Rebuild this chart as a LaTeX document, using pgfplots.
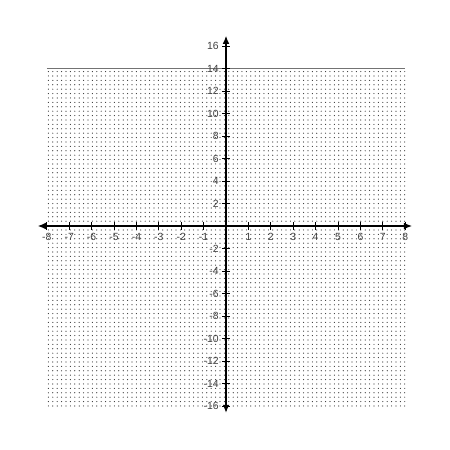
\documentclass[border=0pt]{standalone}
\usepackage{pgfplots}
\pgfplotsset{compat=1.18}
\usepackage{fontspec}
\setmainfont{Liberation Sans}
\usetikzlibrary{patterns,arrows.meta}

% sparser dots than the stock "dots" pattern
\pgfdeclarepatternformonly{sparsedots}{\pgfqpoint{-1pt}{-1pt}}{\pgfqpoint{1pt}{1pt}}{\pgfqpoint{3.3pt}{3.3pt}}{%
  \pgfpathcircle{\pgfqpoint{0pt}{0pt}}{0.45pt}\pgfusepath{fill}}

\begin{document}
\begin{tikzpicture}
\begin{axis}[
  x=16.8pt, y=8.4375pt,
  axis lines=middle,
  axis on top,
  xmin=-8.4, xmax=8.3, ymin=-16.6, ymax=16.9,
  axis line style={black, line width=0.8pt, {Latex[length=6pt,width=5pt]}-{Latex[length=6pt,width=5pt]}},
  xtick={-8,-7,-6,-5,-4,-3,-2,-1,1,2,3,4,5,6,7,8},
  ytick={-16,-14,-12,-10,-8,-6,-4,-2,2,4,6,8,10,12,14,16},
  major tick length=6pt,
  tick style={black, line width=0.5pt},
  tick align=center,
  ticklabel style={font=\fontsize{7.8}{8}\selectfont, text=black!75},
  /pgf/number format/assume math mode=true,
  xticklabel style={yshift=1pt},
  yticklabel style={xshift=1pt},
]
\addplot[draw=none, pattern=sparsedots, pattern color=black!80]
  coordinates {(-8,-16) (-8,14) (8,14) (8,-16)} -- cycle;
\addplot[black!55, line width=1.1pt] coordinates {(-8,14) (8,14)};
\coordinate (bl) at (axis cs:-10.09,-19.91);
\coordinate (tr) at (axis cs:10.0,20.09);
\end{axis}
\pgfresetboundingbox
\path[use as bounding box] (bl) rectangle (tr);
\end{tikzpicture}
\end{document}
